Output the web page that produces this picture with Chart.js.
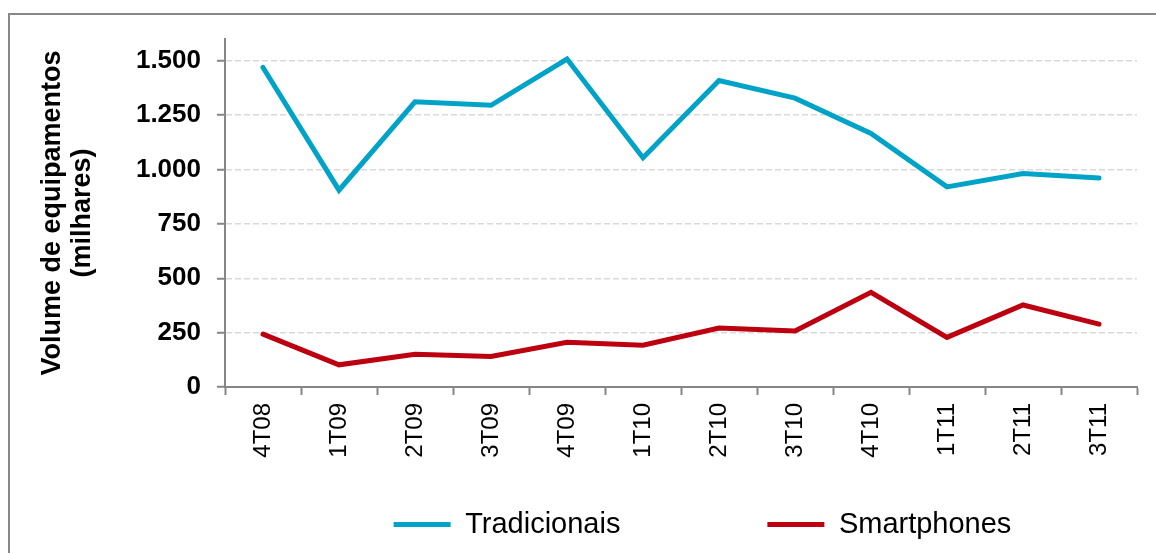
<!DOCTYPE html>
<html>
<head>
<meta charset="utf-8">
<script src="https://cdn.jsdelivr.net/npm/chart.js@4"></script>
<style>
  html, body { margin: 0; padding: 0; background: #fff; overflow: hidden; }
  #moldura {
    position: absolute; left: 8px; top: 13px; width: 1200px; height: 600px;
    border-left: 2px solid #888; border-top: 2px solid #888;
  }
  #grafico { position: absolute; left: 0; top: 0; }
</style>
</head>
<body>
<div id="moldura"></div>
<canvas id="grafico" width="1156" height="553"></canvas>
<script>
// trimestres
const trimestres = ["4T08", "1T09", "2T09", "3T09", "4T09", "1T10", "2T10", "3T10", "4T10", "1T11", "2T11", "3T11"];

// volume em milhares
const tradicionais = [1469, 905, 1311, 1295, 1508, 1054, 1409, 1328, 1166, 920, 982, 961];
const smartphones = [243, 102, 151, 140, 206, 192, 271, 258, 435, 228, 377, 289];

// marcas do eixo y
const ticksY = [0, 250, 500, 750, 1000, 1250, 1500];

const tituloEixoY = ["Volume de equipamentos", "(milhares)"];
const fonte = "'Liberation Sans', Arial, sans-serif";

const nf = new Intl.NumberFormat("pt-BR");

// desloca a legenda para a direita, como no original
const moveLegenda = {
  id: "moveLegenda",
  afterLayout(chart) {
    const leg = chart.legend;
    leg.left += 134;
    leg.right += 134;
    leg.width = leg.right - leg.left;
  },
};

new Chart(document.getElementById("grafico"), {
  type: "line",
  data: {
    labels: trimestres,
    datasets: [
      {
        label: "Tradicionais",
        data: tradicionais,
        borderColor: "#00a3c8",
        backgroundColor: "#00a3c8",
        borderWidth: 5,
        borderCapStyle: "round",
        pointRadius: 0,
        tension: 0,
      },
      {
        label: "Smartphones",
        data: smartphones,
        borderColor: "#bc0010",
        backgroundColor: "#bc0010",
        borderWidth: 5,
        borderCapStyle: "round",
        pointRadius: 0,
        tension: 0,
      },
    ],
  },
  plugins: [moveLegenda],
  options: {
    responsive: false,
    animation: false,
    layout: { padding: { top: 39, right: 19, left: 0, bottom: 4 } },
    plugins: {
      tooltip: { enabled: false },
      legend: {
        position: "bottom",
        labels: {
          color: "#000",
          font: { family: fonte, size: 29 },
          usePointStyle: true,
          pointStyle: "line",
          pointStyleWidth: 57,
          padding: 10,
          generateLabels: function (chart) {
            const itens = Chart.defaults.plugins.legend.labels.generateLabels(chart);
            itens[0].text = itens[0].text + "                 ";
            return itens;
          },
        },
      },
    },
    scales: {
      x: {
        offset: true,
        afterFit: function (scale) {
          scale.height = 113;
        },
        grid: {
          offset: true,
          drawOnChartArea: false,
          tickLength: 8,
          tickColor: "#868686",
          tickWidth: 2,
        },
        border: { color: "#868686", width: 2 },
        ticks: {
          color: "#000",
          font: { family: fonte, size: 24 },
          minRotation: 90,
          maxRotation: 90,
          padding: 8,
        },
      },
      y: {
        min: 0,
        max: 1600,
        afterBuildTicks: function (scale) {
          scale.ticks = ticksY.map((v) => ({ value: v }));
        },
        afterFit: function (scale) {
          scale.width = 225;
        },
        grid: {
          color: "#d9d9d9",
          lineWidth: 1.5,
          tickBorderDash: [],
          tickColor: "#868686",
          tickWidth: 2,
          tickLength: 8,
        },
        border: { color: "#868686", width: 2, dash: [6, 3] },
        ticks: {
          color: "#000",
          font: { family: fonte, size: 26, weight: "bold" },
          padding: 16,
          callback: (v) => nf.format(v),
        },
        title: {
          display: true,
          text: tituloEixoY,
          color: "#000",
          font: { family: fonte, size: 27, weight: "bold", lineHeight: 1.1 },
          padding: { top: 38, bottom: 0 },
        },
      },
    },
  },
});
</script>
</body>
</html>
